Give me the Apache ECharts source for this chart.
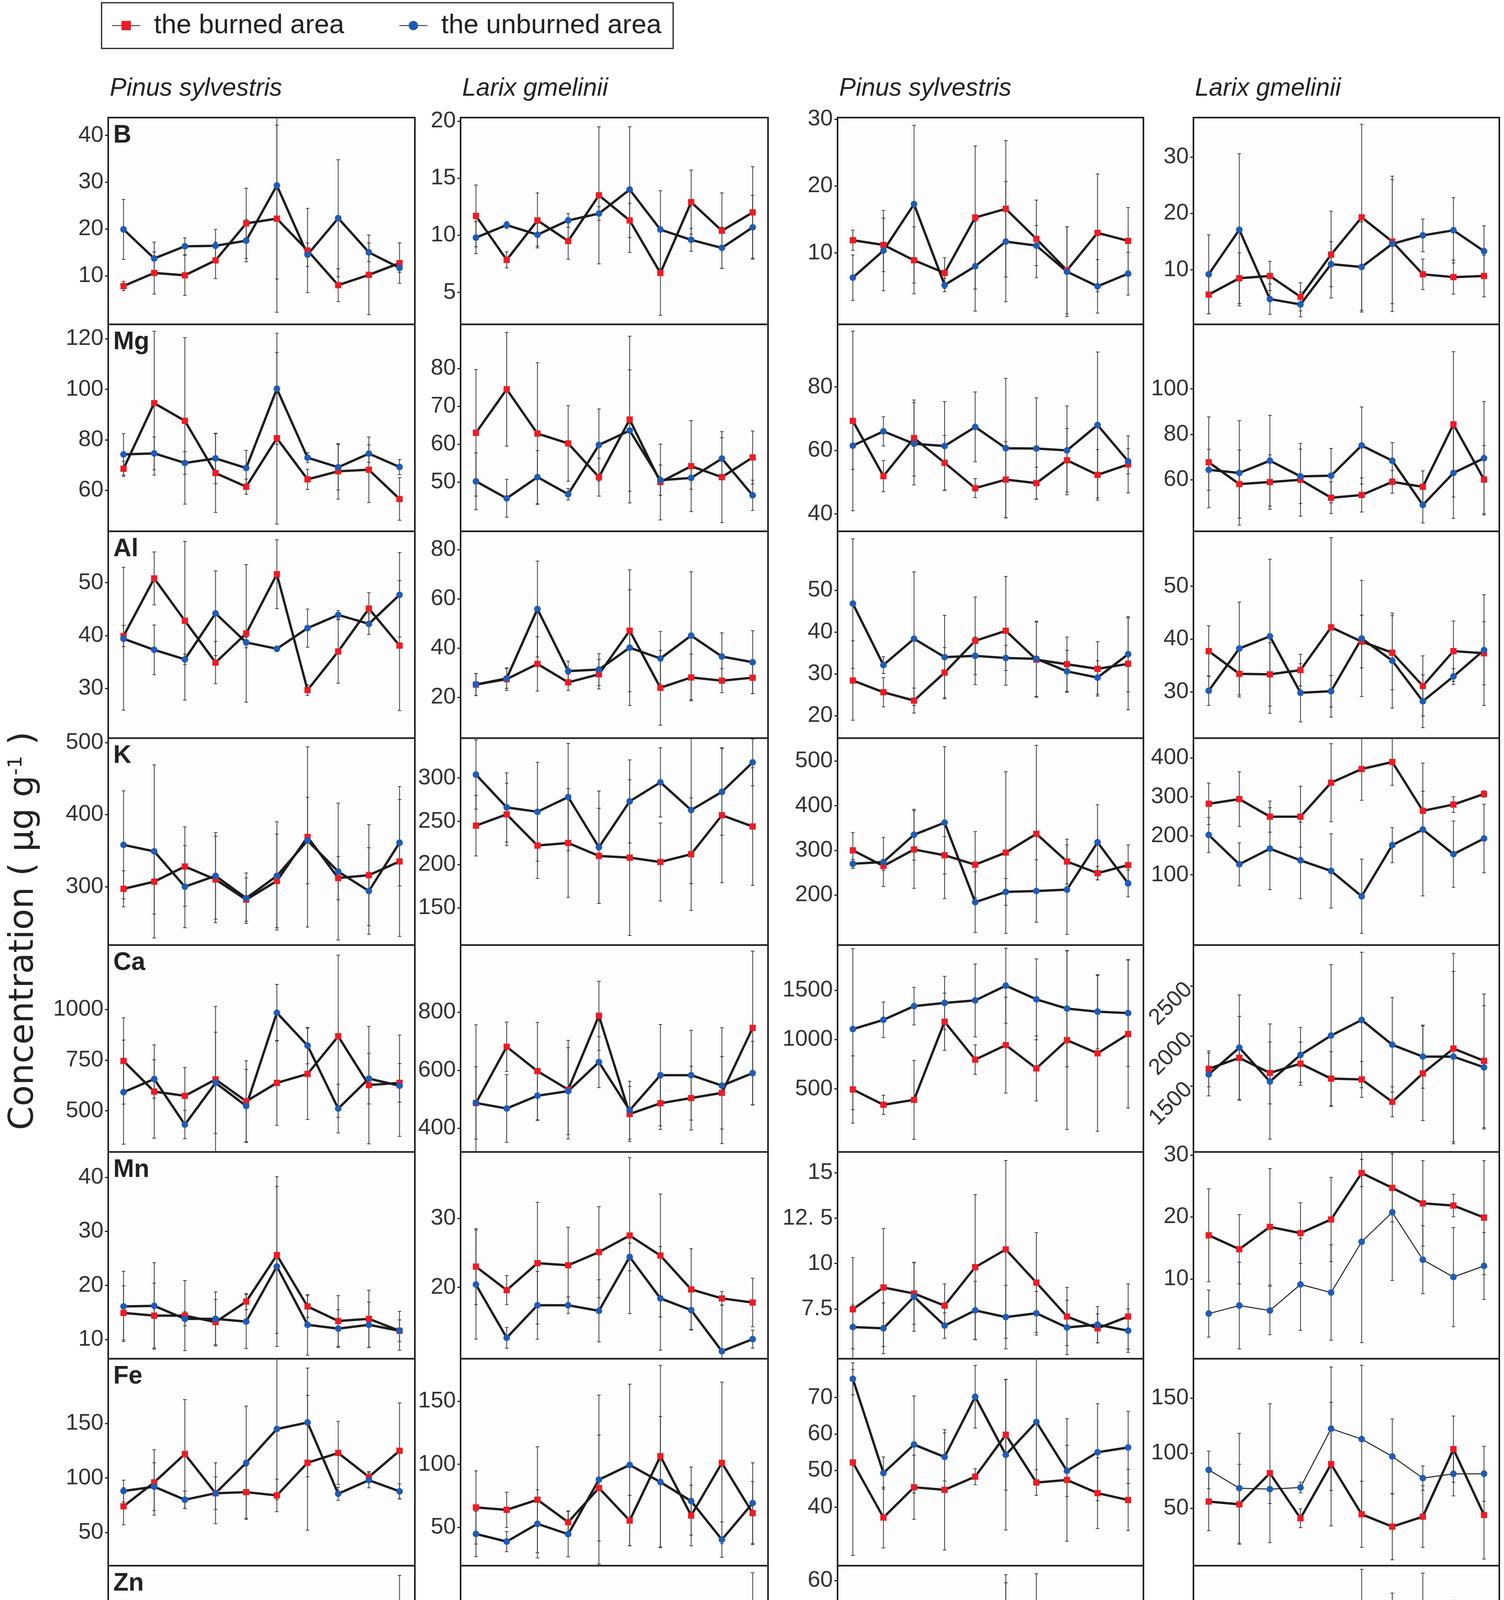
<!DOCTYPE html>
<html>
<head>
<meta charset="utf-8">
<title>Element concentration, burned vs unburned</title>
<script src="https://cdn.jsdelivr.net/npm/echarts@6/dist/echarts.min.js"></script>
<style>
  html, body { margin: 0; padding: 0; background: #fff; }
  #chart { width: 3850px; height: 4799px; }
</style>
</head>
<body>
<div id="chart"></div>
<script>
// categories
var elements = ['B', 'Mg', 'Al', 'K', 'Ca', 'Mn', 'Fe', 'Zn'];
var species = ['Pinus sylvestris', 'Larix gmelinii', 'Pinus sylvestris', 'Larix gmelinii'];
var sites = ['Tahe 7.5', 'Tahe 18'];
var years75 = ['1986', '1987', '1988', '1989', '1990', '1991', '1992', '1993', '1994', '1995'];
var years18 = ['2004', '2005', '2006', '2007', '2008', '2009', '2010', '2011', '2012', '2013'];
var fireYears = ['1990', '2008'];
var seriesNames = ['the burned area', 'the unburned area'];

// each array: 4 panels (Tahe 7.5 Pinus, Tahe 7.5 Larix, Tahe 18 Pinus, Tahe 18 Larix)
var B_burned = [[7.8, 10.6, 10.1, 13.3, 21.2, 22.2, 15.4, 8.0, 10.2, 12.7], [11.7, 7.85, 11.3, 9.5, 13.5, 11.3, 6.7, 12.9, 10.4, 12.0], [11.9, 11.2, 8.9, 7.0, 15.3, 16.6, 12.1, 7.4, 13.0, 11.8], [5.6, 8.5, 8.9, 5.2, 12.7, 19.3, 15.0, 9.2, 8.7, 8.9]];
var B_unburned = [[19.9, 13.7, 16.3, 16.4, 17.5, 29.3, 14.5, 22.3, 15.0, 11.7], [9.8, 10.9, 10.05, 11.3, 11.9, 14.0, 10.5, 9.6, 8.9, 10.7], [6.3, 10.35, 17.3, 5.2, 8.0, 11.7, 11.1, 7.2, 5.0, 6.9], [9.2, 17.1, 4.8, 3.85, 11.0, 10.5, 14.6, 16.1, 17.0, 13.3]];
var B_burnedErr = [[1, 4.5, 4.3, 3.9, 7.5, 20, 9, 3.5, 8.5, 4.3], [2.7, 0.7, 2.4, 1.6, 6, 1.5, 3.7, 2.8, 3.3, 4], [1.5, 4, 5, 2.3, 10.7, 10.2, 5.8, 6.5, 8.8, 5], [3.4, 4.5, 2.6, 2.5, 7.7, 16.5, 11, 2.7, 3, 3.7]];
var B_unburnedErr = [[6.4, 3.5, 1.8, 3.5, 4.5, 20, 2.5, 12.5, 2, 1], [1.4, 0.3, 1.0, 0.6, 0.6, 5.5, 3.4, 1, 1.8, 2.8], [3.4, 6, 11.8, 1, 6.7, 9, 3, 6.7, 4, 3.2], [7, 13.5, 2.7, 2.2, 4, 8, 12, 2.9, 5.8, 4.5]];
var B_range = [[-0.4, 43.8], [2.2, 20.3], [-0.7, 30.25], [0.3, 37]];
var B_ticks = [[10, 20, 30, 40], [5, 10, 15, 20], [10, 20, 30], [10, 20, 30]];

var Mg_burned = [[68.5, 94.5, 87.5, 66.8, 61.4, 80.6, 64.3, 67.5, 68.1, 56.5], [63.0, 74.5, 62.8, 60.2, 51.3, 66.5, 50.0, 54.2, 51.3, 56.5], [69.3, 51.9, 63.9, 56.1, 48.1, 50.8, 49.7, 56.9, 52.3, 55.6], [67.7, 58.1, 59.0, 60.0, 52.1, 53.3, 59.1, 56.9, 84.4, 60.1]];
var Mg_unburned = [[74.2, 74.6, 70.8, 72.6, 68.8, 100.2, 72.9, 69.1, 74.5, 69.2], [50.2, 45.7, 51.3, 46.8, 59.8, 63.6, 50.5, 51.1, 56.2, 46.5], [61.5, 66.0, 62.1, 61.4, 67.4, 60.7, 60.6, 60.0, 68.0, 56.6], [64.4, 63.0, 68.4, 61.5, 61.8, 75.1, 68.4, 48.9, 63.0, 69.5]];
var Mg_burnedErr = [[3, 28.5, 33, 15.6, 3, 34, 4, 11, 13, 8.4], [16.7, 15, 18.7, 10, 5, 22, 10, 12, 12, 7], [28.3, 4.9, 12, 8.6, 3, 12, 5, 10, 8, 9], [20, 15, 12, 16, 7, 7.5, 5, 7, 32, 15]];
var Mg_unburnedErr = [[8.2, 6.5, 4.5, 10, 7, 22, 2, 9, 3.5, 3], [7.5, 5, 7, 1.5, 9.5, 16, 4, 3, 5.5, 4], [7.5, 4.6, 13, 14, 11, 22, 16, 14, 23, 4], [9, 23, 20, 12, 12, 17, 8, 7.9, 20, 25]];
var Mg_range = [[43.7, 125.7], [37, 91.6], [34.5, 99.7], [37.3, 128.4]];
var Mg_ticks = [[60, 80, 100, 120], [50, 60, 70, 80], [40, 60, 80], [60, 80, 100]];

var Al_burned = [[39.9, 50.8, 42.8, 34.9, 40.4, 51.6, 29.7, 37.0, 45.1, 38.1], [25.2, 27.4, 33.6, 26.1, 29.4, 47.1, 23.9, 28.1, 26.8, 28.0], [28.4, 25.6, 23.6, 30.3, 37.9, 40.3, 33.4, 32.3, 31.2, 32.4], [37.7, 33.4, 33.3, 34.1, 42.2, 39.5, 37.4, 31.1, 37.7, 37.3]];
var Al_unburned = [[39.4, 37.3, 35.5, 44.2, 38.7, 37.5, 41.4, 43.9, 42.2, 47.7], [25.2, 27.7, 55.9, 30.7, 31.3, 40.2, 35.8, 45.1, 36.6, 34.3], [46.8, 32.1, 38.4, 34.0, 34.3, 33.8, 33.6, 30.6, 29.1, 34.7], [30.2, 38.2, 40.5, 29.8, 30.1, 40.1, 35.9, 28.2, 32.9, 37.9]];
var Al_burnedErr = [[2, 5, 15, 4, 13, 6.5, 1, 6, 3, 12.3], [4.5, 4.6, 11, 3.3, 6, 24.8, 15.2, 9.5, 4.9, 6.5], [9.5, 3.5, 3, 6, 10.5, 13, 9, 6.5, 6.5, 11], [4.8, 4.4, 6, 3, 17, 5, 7, 5.7, 5.7, 6]];
var Al_unburnedErr = [[13.5, 4.7, 1, 8, 1, 0.5, 3.6, 0.8, 2, 8], [4.5, 4, 19.5, 4, 6.5, 23.5, 11, 26, 9.6, 12.8], [15.5, 2, 16, 10, 4.5, 3, 9, 5, 4, 9], [2.8, 8.8, 14.6, 5.5, 3, 11, 9, 5, 1.5, 10.5]];
var Al_range = [[20.6, 59.7], [3.4, 87.5], [14.6, 64.1], [21.2, 60.4]];
var Al_ticks = [[30, 40, 50], [20, 40, 60, 80], [20, 30, 40, 50], [30, 40, 50]];

var K_burned = [[297, 307, 328, 310, 282, 308, 369, 312, 316, 335], [245, 258, 222, 225, 210, 208, 203, 212, 257, 244], [300, 265, 302, 289, 268, 295, 337, 275, 249, 267], [282, 294, 249, 249, 336, 371, 389, 264, 280, 307]];
var K_unburned = [[358, 349, 300, 315, 284, 315, 364, 321, 294, 361], [304, 266, 261, 278, 220, 273, 295, 263, 284, 318], [270, 274, 335, 362, 184, 207, 209, 212, 318, 226], [202, 127, 167, 137, 110, 45, 176, 216, 153, 193]];
var K_burnedErr = [[25, 45, 55, 60, 30, 65, 125, 30, 70, 104], [35, 36, 38, 63, 55, 90, 45, 65, 78, 68], [40, 10, 87, 42, 74, 181, 198, 50, 15, 45], [53, 70, 40, 78, 100, 80, 60, 50, 20, 8]];
var K_unburnedErr = [[75, 120, 57, 60, 35, 75, 60, 95, 60, 60], [40, 40, 57, 62, 65, 48, 40, 85, 50, 27], [10, 55, 57, 170, 68, 30, 70, 100, 84, 30], [45, 55, 105, 98, 95, 95, 45, 170, 85, 88]];
var K_range = [[219, 506], [107, 346], [88, 551], [-80, 450]];
var K_ticks = [[300, 400, 500], [150, 200, 250, 300], [200, 300, 400, 500], [100, 200, 300, 400]];

var Ca_burned = [[746, 595, 574, 655, 547, 638, 682, 868, 627, 638], [487, 681, 597, 533, 788, 449, 486, 504, 522, 746], [494, 339, 389, 1181, 797, 944, 708, 994, 861, 1056], [1672, 1782, 1631, 1724, 1574, 1566, 1342, 1627, 1875, 1752]];
var Ca_unburned = [[592, 657, 432, 638, 524, 984, 822, 511, 659, 624], [487, 468, 512, 528, 628, 462, 583, 583, 547, 590], [1106, 1200, 1339, 1372, 1397, 1547, 1408, 1314, 1283, 1269], [1616, 1884, 1545, 1812, 2005, 2161, 1913, 1794, 1794, 1687]];
var Ca_burnedErr = [[213, 230, 140, 360, 200, 210, 225, 400, 290, 95], [270, 85, 168, 170, 119, 95, 90, 110, 125, 265], [341, 97, 400, 290, 150, 486, 330, 905, 790, 750], [180, 415, 310, 216, 270, 180, 150, 473, 953, 670]];
var Ca_unburnedErr = [[257, 95, 70, 250, 180, 140, 90, 120, 125, 250], [125, 117, 85, 150, 88, 100, 175, 155, 200, 110], [816, 180, 190, 270, 370, 380, 410, 590, 375, 542], [215, 527, 577, 274, 710, 678, 474, 316, 853, 617]];
var Ca_range = [[297, 1318], [318, 1032], [-139, 1958], [840, 2911]];
var Ca_ticks = [[500, 750, 1000], [400, 600, 800], [500, 1000, 1500], [1500, 2000, 2500]];

var Mn_burned = [[14.9, 14.4, 14.4, 13.2, 17.0, 25.6, 16.1, 13.4, 13.8, 11.6], [23.0, 19.6, 23.5, 23.2, 25.1, 27.5, 24.6, 19.7, 18.4, 17.8], [7.48, 8.68, 8.35, 7.68, 9.8, 10.78, 8.95, 7.08, 6.43, 7.08], [17.05, 14.8, 18.4, 17.4, 19.6, 27.1, 24.7, 22.2, 21.85, 19.9]];
var Mn_unburned = [[16.1, 16.2, 13.8, 13.8, 13.3, 23.5, 12.7, 12.0, 12.7, 11.6], [20.4, 12.7, 17.4, 17.4, 16.6, 24.4, 18.4, 16.7, 10.75, 12.5], [6.5, 6.43, 8.17, 6.58, 7.42, 7.05, 7.26, 6.48, 6.63, 6.3], [4.4, 5.7, 4.9, 9.1, 7.8, 16.0, 20.75, 13.1, 10.3, 12.1]];
var Mn_burnedErr = [[5, 6, 6.5, 4.2, 1.5, 14.5, 2, 4.7, 5.3, 3.6], [5.5, 2.1, 8.8, 5.5, 6.6, 11.3, 8.9, 5.9, 1, 3.5], [2.85, 3.25, 1.7, 1.2, 4, 4.9, 2.75, 1.6, 0.8, 1.8], [7.5, 5.6, 9.4, 4.9, 6.8, 2.2, 5.5, 6.9, 1.8, 9.2]];
var Mn_unburnedErr = [[6.5, 8, 1.3, 5, 5, 14.8, 5.6, 3.5, 4.2, 2], [7.9, 1.5, 4.9, 1.2, 4.5, 2, 7.5, 2.8, 6.7, 1.3], [1.2, 1.4, 1.9, 0.7, 1.6, 1.75, 1.2, 1.5, 1, 1.2], [3.8, 7, 3.9, 7.4, 7.7, 16.3, 11, 5.5, 8, 5.4]];
var Mn_range = [[6.4, 44.7], [9.65, 39.6], [4.75, 16.15], [-2.9, 30.5]];
var Mn_ticks = [[10, 20, 30, 40], [20, 30], [7.5, 10, 12.5, 15], [10, 20, 30]];

var Fe_burned = [[74, 96, 122, 86, 87, 84, 114, 123, 101, 125], [65.8, 63.9, 71.9, 54.1, 81.2, 55.4, 106.4, 59.4, 101.1, 61.3], [52.2, 37.1, 45.4, 44.7, 48.3, 59.8, 46.7, 47.4, 43.8, 41.9], [56.1, 53.6, 81.8, 40.9, 90, 44.5, 33.3, 42.4, 103.6, 43.9]];
var Fe_unburned = [[88, 92, 80, 86, 114, 145, 151, 85.5, 98, 87.7], [44.8, 38.7, 52.8, 44.6, 87.8, 99.5, 85.9, 70.8, 40.3, 69.2], [75.1, 49.3, 57.1, 53.7, 70.2, 54.3, 63.3, 49.9, 55, 56.3], [84.8, 68.2, 67.3, 68.8, 122.1, 112.7, 97, 77.3, 81.2, 81.2]];
var Fe_burnedErr = [[17, 30, 50, 15, 24, 15, 62, 29, 5, 44], [29, 14, 42, 9, 42, 20, 72, 24, 64, 25], [25.5, 8.3, 8.8, 16.5, 2.2, 15.2, 3.5, 16.8, 9.7, 8.4], [26.5, 36.3, 63, 8.5, 56, 30, 30, 28, 30, 40]];
var Fe_unburnedErr = [[10, 22, 8, 28, 52, 65, 50, 6, 7, 7], [18, 8, 27, 18, 67, 64, 52, 27, 14, 32], [4.4, 4.4, 13.3, 6.6, 8.6, 20.6, 17.3, 7, 13.3, 9.9], [17, 49.8, 13, 4.8, 56, 67, 34, 11, 20, 25]];
var Fe_range = [[19.4, 209.5], [19.6, 183.6], [23.9, 80.6], [-2.1, 185.5]];
var Fe_ticks = [[50, 100, 150], [50, 100, 150], [40, 50, 60, 70], [50, 100, 150]];

var Zn_burned = [[63.3, 49.8, 67.7, 48.3, 71.9, 42.7, 47.5, 60, 49.2, 88.3], [66.3, 81.9, 75.2, 71.8, 65.5, 59.7, 61.4, 72.7, 87.1, 98.8], [47.5, 47.1, 50.1, 44.1, 43.0, 49.5, 44.1, 39.3, 34.1, 29.8], [59.4, 63.6, 54.6, 72.4, 55.4, 62.2, 53.5, 81.9, 80.7, 63.6]];
var Zn_unburned = [[66.5, 56.2, 46.5, 61.9, 69.4, 85, 59, 51.7, 55.2, 59], [50.8, 51.5, 68.6, 67.9, 61.1, 76.9, 53.8, 65.6, 56, 65.9], [26.0, 36.5, 32.9, 31.2, 37.2, 44.6, 39.0, 26.2, 29.1, 26.8], [62.2, 66, 75.5, 62.9, 90.7, 127.6, 91.8, 65.3, 62.5, 75.5]];
var Zn_burnedErr = [[17, 16, 32, 11, 12, 3, 7.5, 25, 8, 54], [4.5, 4.5, 28, 18.5, 9, 6, 10, 18.5, 18.5, 30], [7.5, 6, 5.5, 1, 7, 10, 17.3, 11.9, 5.5, 7.9], [16, 10, 12.5, 15, 21, 42, 19, 67, 49, 35]];
var Zn_unburnedErr = [[16, 21, 10, 21, 10, 42, 9.5, 16, 14, 24], [2, 2.5, 17, 10, 9, 15, 5, 10, 7, 16], [1.5, 3, 2, 4.5, 9, 16.6, 12, 1.7, 5.5, 5], [13, 43, 33, 6, 3, 24, 43, 22, 30, 54]];
var Zn_range = [[28.7, 147.9], [46.7, 131.7], [19.5, 63.1], [7.7, 154.2]];
var Zn_ticks = [[30, 60, 90, 120], [50, 70, 90, 110], [30, 40, 50, 60], [40, 80, 120]];

var tickText = { '12.5': '12. 5' };

var table = {
  B: [B_burned, B_unburned, B_burnedErr, B_unburnedErr, B_range, B_ticks],
  Mg: [Mg_burned, Mg_unburned, Mg_burnedErr, Mg_unburnedErr, Mg_range, Mg_ticks],
  Al: [Al_burned, Al_unburned, Al_burnedErr, Al_unburnedErr, Al_range, Al_ticks],
  K: [K_burned, K_unburned, K_burnedErr, K_unburnedErr, K_range, K_ticks],
  Ca: [Ca_burned, Ca_unburned, Ca_burnedErr, Ca_unburnedErr, Ca_range, Ca_ticks],
  Mn: [Mn_burned, Mn_unburned, Mn_burnedErr, Mn_unburnedErr, Mn_range, Mn_ticks],
  Fe: [Fe_burned, Fe_unburned, Fe_burnedErr, Fe_unburnedErr, Fe_range, Fe_ticks],
  Zn: [Zn_burned, Zn_unburned, Zn_burnedErr, Zn_unburnedErr, Zn_range, Zn_ticks]
};

// layout
var colX = [277, 1179, 2144, 3055];
var colW = [785, 787, 783, 783];
var rowY0 = 301, rowH = 529.6;
var red = '#ec1c24', blue = '#1e5cb8', ink = '#1c1c1c';
var thinUnburned = ['Mn3', 'Fe3'];
var rotatedLabels = ['Ca3'];

function errorBar(params, api) {
  var x = api.value(0);
  var lo = api.coord([x, api.value(1)]);
  var hi = api.coord([x, api.value(2)]);
  var cap = 4.5;
  var st = { stroke: '#3a3a3a', lineWidth: 2 };
  return {
    type: 'group',
    children: [
      { type: 'line', shape: { x1: lo[0], y1: lo[1], x2: hi[0], y2: hi[1] }, style: st },
      { type: 'line', shape: { x1: lo[0] - cap, y1: lo[1], x2: lo[0] + cap, y2: lo[1] }, style: st },
      { type: 'line', shape: { x1: hi[0] - cap, y1: hi[1], x2: hi[0] + cap, y2: hi[1] }, style: st }
    ]
  };
}

var grids = [], xAxes = [], yAxes = [], series = [];
elements.forEach(function (el, r) {
  var d = table[el];
  for (var c = 0; c < 4; c++) {
    var k = grids.length;
    var bottom = r === elements.length - 1;
    var years = c < 2 ? years75 : years18;
    grids.push({
      left: colX[c], top: rowY0 + r * rowH, width: colW[c], height: rowH,
      show: true, borderColor: ink, borderWidth: 4, backgroundColor: '#fdfdfd',
      containLabel: false, outerBoundsMode: 'none'
    });
    xAxes.push({
      type: 'category', gridIndex: k, data: years, boundaryGap: true,
      axisLine: { show: false },
      axisTick: { show: bottom, alignWithLabel: true, length: 10, lineStyle: { color: ink, width: 3 } },
      axisLabel: {
        show: bottom, rotate: 90, margin: 14, fontSize: 50, fontFamily: 'DejaVu Sans',
        color: function (v) { return fireYears.indexOf(v) >= 0 ? red : '#333'; }
      },
      splitLine: { show: false }
    });
    yAxes.push({
      type: 'value', gridIndex: k, min: d[4][c][0], max: d[4][c][1],
      splitLine: { show: false },
      axisLine: { show: false },
      axisTick: { show: true, length: 8, customValues: d[5][c], lineStyle: { color: ink, width: 3 } },
      axisLabel: {
        customValues: d[5][c], margin: 12, fontSize: 58, color: '#333', fontFamily: 'Liberation Sans',
        rotate: rotatedLabels.indexOf(el + c) >= 0 ? 45 : 0,
        formatter: function (v) { return tickText[String(v)] || String(v); }
      }
    });
    [0, 1].forEach(function (s) {
      var vals = d[s][c], errs = d[s + 2][c];
      series.push({
        type: 'custom', xAxisIndex: k, yAxisIndex: k, clip: true, silent: true, z: 1,
        renderItem: errorBar,
        data: vals.map(function (v, i) { return [i, v - errs[i], v + errs[i]]; })
      });
    });
    [0, 1].forEach(function (s) {
      var thin = s === 1 && thinUnburned.indexOf(el + c) >= 0;
      series.push({
        type: 'line', name: seriesNames[s], xAxisIndex: k, yAxisIndex: k, z: 3,
        data: d[s][c],
        symbol: s === 0 ? 'rect' : 'circle', symbolSize: s === 0 ? 16 : 17,
        itemStyle: { color: s === 0 ? red : blue },
        lineStyle: { color: ink, width: thin ? 2.5 : 6, join: 'round' },
        emphasis: { disabled: true }
      });
    });
  }
});

var graphics = [];
species.forEach(function (sp, c) {
  graphics.push({
    type: 'text', x: colX[c] + 4, y: 227,
    style: { text: sp, font: 'italic 64px "Liberation Sans", Arial, sans-serif', fill: '#222', textVerticalAlign: 'middle', verticalAlign: 'middle' }
  });
});
elements.forEach(function (el, r) {
  graphics.push({
    type: 'text', x: colX[0] + 13, y: rowY0 + r * rowH + 14,
    style: { text: el, font: 'bold 64px "Liberation Sans", Arial, sans-serif', fill: '#222', textVerticalAlign: 'top', verticalAlign: 'top' }
  });
});
graphics.push({
  type: 'text', x: 61, y: 2383, rotation: Math.PI / 2,
  style: {
    text: 'Concentration ( μg g{sup|-1} )',
    font: '88px "DejaVu Sans", sans-serif', fill: '#222',
    textAlign: 'center', align: 'center', textVerticalAlign: 'middle', verticalAlign: 'middle',
    rich: { sup: { fontSize: 50, fontFamily: 'DejaVu Sans', padding: [0, 0, 38, 0] } }
  }
});
graphics.push({ type: 'rect', shape: { x: 277, y: 4702, width: 1690, height: 7 }, style: { fill: '#111' } });
graphics.push({ type: 'rect', shape: { x: 2135, y: 4702, width: 1705, height: 7 }, style: { fill: '#111' } });
[[277, sites[0]], [2144, sites[1]]].forEach(function (p) {
  graphics.push({
    type: 'text', x: p[0], y: 4731,
    style: { text: p[1], font: 'bold 72px "Liberation Sans", Arial, sans-serif', fill: '#111', textVerticalAlign: 'top', verticalAlign: 'top' }
  });
});

var chart = echarts.init(document.getElementById('chart'));
chart.setOption({
  animation: false,
  backgroundColor: '#fff',
  legend: {
    left: 260, top: 7, data: seriesNames,
    itemWidth: 72, itemHeight: 30, itemGap: 140,
    padding: [24, 30, 24, 26],
    borderColor: ink, borderWidth: 3,
    textStyle: { fontSize: 69, color: '#222', fontFamily: 'Liberation Sans', padding: [0, 0, 0, 30] }
  },
  grid: grids,
  xAxis: xAxes,
  yAxis: yAxes,
  series: series,
  graphic: graphics
});
</script>
</body>
</html>
